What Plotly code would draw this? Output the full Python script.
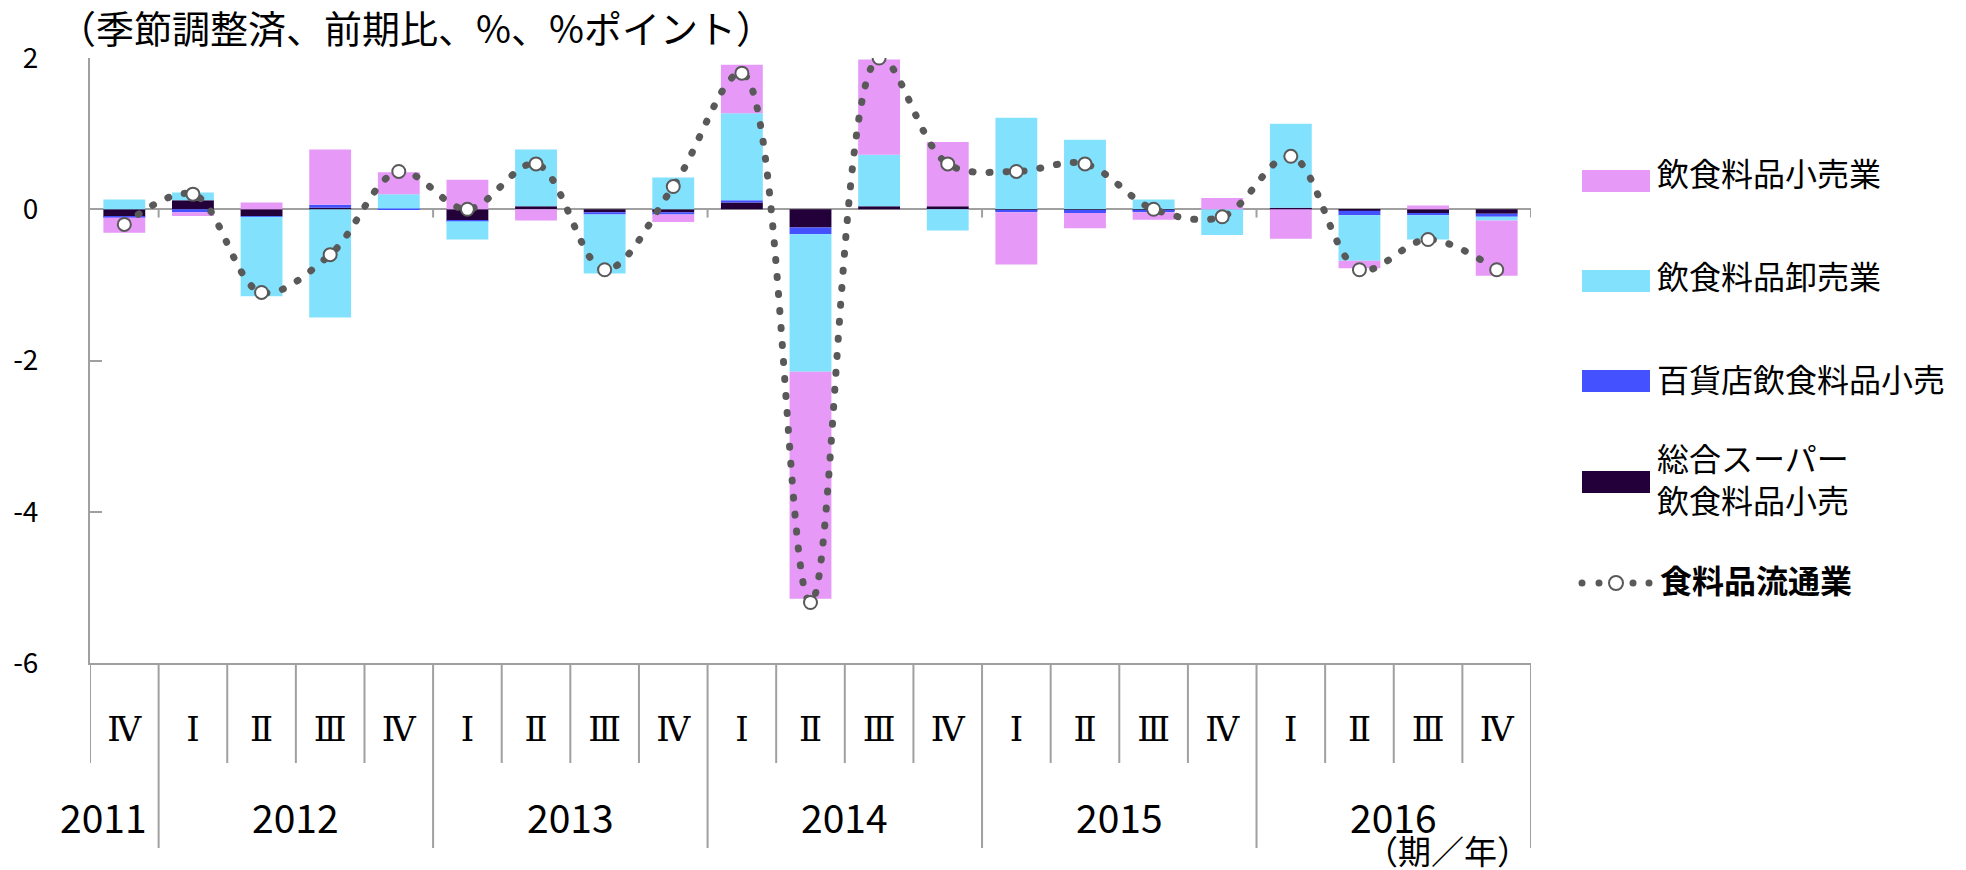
import plotly.graph_objects as go

# quarters 2011 IV .. 2016 IV
periods = ["2011Ⅳ", "2012Ⅰ", "2012Ⅱ", "2012Ⅲ", "2012Ⅳ", "2013Ⅰ", "2013Ⅱ", "2013Ⅲ", "2013Ⅳ",
           "2014Ⅰ", "2014Ⅱ", "2014Ⅲ", "2014Ⅳ", "2015Ⅰ", "2015Ⅱ", "2015Ⅲ", "2015Ⅳ",
           "2016Ⅰ", "2016Ⅱ", "2016Ⅲ", "2016Ⅳ"]
quarters = ["Ⅳ", "Ⅰ", "Ⅱ", "Ⅲ", "Ⅳ", "Ⅰ", "Ⅱ", "Ⅲ", "Ⅳ", "Ⅰ", "Ⅱ", "Ⅲ", "Ⅳ",
            "Ⅰ", "Ⅱ", "Ⅲ", "Ⅳ", "Ⅰ", "Ⅱ", "Ⅲ", "Ⅳ"]
years = ["2011", "2012", "2013", "2014", "2015", "2016"]
year_pos = [-0.3, 2.5, 6.5, 10.5, 14.5, 18.5]
y_ticks = [2, 0, -2, -4, -6]
y_labels = ["2", "0", "-2", "-4", "-6"]

retail = [-0.20, -0.05, 0.09, 0.73, 0.29, 0.39, -0.15, 0.00, -0.10, 0.64, -3.00,
          1.26, 0.85, -0.69, -0.20, -0.10, 0.15, -0.39, -0.10, 0.05, -0.73]
wholesale = [0.13, 0.10, -1.05, -1.43, 0.19, -0.24, 0.75, -0.78, 0.42, 1.15, -1.82,
             0.68, -0.28, 1.21, 0.92, 0.13, -0.34, 1.11, -0.60, -0.32, -0.05]
dept = [-0.01, -0.04, -0.01, 0.04, 0.01, -0.01, 0.00, -0.03, -0.03, 0.03, -0.09,
        0.00, 0.00, -0.02, -0.04, -0.02, 0.00, 0.00, -0.06, -0.03, -0.04]
gms = [-0.10, 0.12, -0.09, 0.02, 0.00, -0.15, 0.04, -0.04, -0.04, 0.09, -0.24,
       0.04, 0.04, -0.02, -0.01, -0.02, 0.00, 0.02, -0.02, -0.05, -0.06]
total = [-0.2, 0.2, -1.1, -0.6, 0.5, 0.0, 0.6, -0.8, 0.3, 1.8, -5.2, 2.0, 0.6, 0.5,
         0.6, 0.0, -0.1, 0.7, -0.8, -0.4, -0.8]

PINK = "#E699F7"
CYAN = "#82E1FD"
BLUE = "#4451FF"
DARK = "#24003A"
GREY = "#595959"
AXIS = "#A0A0A0"
FONT = "Noto Sans CJK JP"

# plot area in pixels
L, R, T, B = 90, 1531, 58, 663


def px_x(p):
    return (p - L) / (R - L)


def px_y(p):
    return (B - p) / (B - T)


fig = go.Figure()

# stacking order from zero outward: GMS, dept, wholesale, retail
for name, vals, col in [("総合スーパー飲食料品小売", gms, DARK),
                        ("百貨店飲食料品小売", dept, BLUE),
                        ("飲食料品卸売業", wholesale, CYAN),
                        ("飲食料品小売業", retail, PINK)]:
    fig.add_trace(go.Bar(x=periods, y=vals, name=name, marker_color=col,
                         marker_line_width=0, showlegend=False))

fig.add_trace(go.Scatter(
    x=periods, y=total, name="食料品流通業", mode="lines+markers", showlegend=False,
    line=dict(color=GREY, width=7, dash="1px,16px", shape="spline", smoothing=1),
    marker=dict(size=13, color="white", line=dict(color=GREY, width=2))))

shapes = []
# dividers under the category axis
for i in range(len(periods) + 1):
    bx = i - 0.5
    long_div = i in (1, 5, 9, 13, 17, 21)
    y1 = px_y(848) if long_div else px_y(763)
    shapes.append(dict(type="line", xref="x", yref="paper", x0=bx, x1=bx, y0=0, y1=y1,
                       line=dict(color=AXIS, width=2)))
    if long_div:
        shapes.append(dict(type="line", xref="x", yref="y", x0=bx, x1=bx, y0=0, y1=-0.11,
                           line=dict(color=AXIS, width=2)))

# legend built by hand
legend_rows = [("飲食料品小売業", PINK, 181, 172),
               ("飲食料品卸売業", CYAN, 281, 275),
               ("百貨店飲食料品小売", BLUE, 381, 378),
               ("総合スーパー<br>飲食料品小売", DARK, 482, 478)]
annotations = []
for label, col, sy, ty in legend_rows:
    shapes.append(dict(type="rect", xref="paper", yref="paper", x0=px_x(1582), x1=px_x(1650),
                       y0=px_y(sy - 11), y1=px_y(sy + 11), fillcolor=col, line_width=0))
    annotations.append(dict(text=label, xref="paper", yref="paper", x=px_x(1655), y=px_y(ty),
                            xanchor="left", yanchor="middle", align="left", showarrow=False,
                            font=dict(size=32, color="black", family=FONT)))
for dx in (1582, 1599, 1633, 1649):
    shapes.append(dict(type="circle", xref="paper", yref="paper", x0=px_x(dx - 3.5),
                       x1=px_x(dx + 3.5), y0=px_y(583 + 3.5), y1=px_y(583 - 3.5),
                       fillcolor=GREY, line_width=0))
shapes.append(dict(type="circle", xref="paper", yref="paper", x0=px_x(1616 - 7),
                   x1=px_x(1616 + 7), y0=px_y(583 + 7), y1=px_y(583 - 7),
                   fillcolor="white", line=dict(color=GREY, width=2)))
annotations.append(dict(text="<b>食料品流通業</b>", xref="paper", yref="paper", x=px_x(1658),
                        y=px_y(579), xanchor="left", yanchor="middle", showarrow=False,
                        font=dict(size=32, color="black", family=FONT)))

for yr, pos in zip(years, year_pos):
    annotations.append(dict(text=yr, xref="x", yref="paper", x=pos, y=px_y(816),
                            xanchor="center", yanchor="middle", showarrow=False,
                            font=dict(size=39, color="black", family=FONT)))

annotations.append(dict(text="（季節調整済、前期比、%、%ポイント）",
                        xref="paper", yref="paper", x=px_x(56), y=px_y(27),
                        xanchor="left", yanchor="middle", showarrow=False,
                        font=dict(size=38, color="black", family=FONT)))
annotations.append(dict(text="（期／年）", xref="paper", yref="paper", x=px_x(1447), y=px_y(850),
                        xanchor="center", yanchor="middle", showarrow=False,
                        font=dict(size=33, color="black", family=FONT)))

fig.update_layout(
    width=1966, height=870,
    margin=dict(l=L, r=1966 - R, t=T, b=870 - B, autoexpand=False),
    barmode="relative", bargap=0.39,
    plot_bgcolor="white", paper_bgcolor="white",
    font=dict(family=FONT, color="black"),
    shapes=shapes, annotations=annotations,
    showlegend=False,
)
fig.update_xaxes(type="category", range=[-0.5, 20.5], tickvals=periods, ticktext=quarters,
                 ticks="", showline=True, linecolor=AXIS, linewidth=2, showgrid=False,
                 tickfont=dict(size=34, family="DejaVu Serif", color="black"),
                 ticklabelstandoff=35)
fig.update_yaxes(range=[-6, 2], tickvals=y_ticks, ticktext=y_labels, ticks="inside", ticklen=12,
                 tickcolor=AXIS, tickwidth=2, showline=True, linecolor=AXIS, linewidth=2,
                 showgrid=False, zeroline=True, zerolinecolor=AXIS, zerolinewidth=2,
                 tickfont=dict(size=28, family=FONT, color="black"), ticklabelstandoff=44)

# page without body margin, dotted line drawn with round dots
page_js = ("document.body.style.margin='0';document.body.style.overflow='hidden';"
           "var s=document.createElement('style');s.textContent='.js-line'+"
           "String.fromCharCode(123)+'stroke-linecap:round'+String.fromCharCode(125);"
           "document.head.appendChild(s);")
fig.write_html("out.html", post_script=page_js, config={"displayModeBar": False})
